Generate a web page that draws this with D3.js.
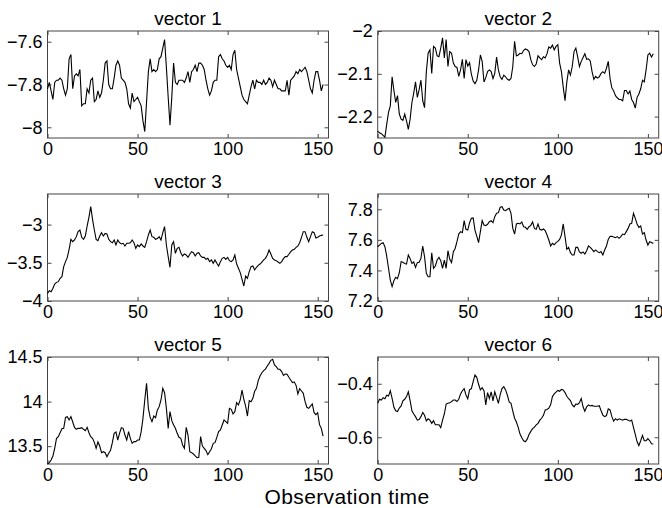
<!DOCTYPE html>
<html>
<head>
<meta charset="utf-8">
<script src="https://cdn.jsdelivr.net/npm/d3@7"></script>
<style>
    body { margin: 0; background: #fff; }
    svg { display: block; font-family: "Liberation Sans", Arial, Helvetica, sans-serif; }
</style>
</head>
<body>
<svg id="chart" width="662" height="508"></svg>
<script>
// observation values (t = 0 .. 153)
const vector1 = [-7.82,-7.79,-7.83,-7.87,-7.79,-7.78,-7.78,-7.77,-7.78,-7.82,
    -7.85,-7.82,-7.68,-7.66,-7.82,-7.76,-7.75,-7.76,-7.73,-7.90,
    -7.89,-7.89,-7.82,-7.84,-7.78,-7.77,-7.88,-7.87,-7.83,-7.86,
    -7.84,-7.78,-7.70,-7.69,-7.80,-7.82,-7.82,-7.77,-7.71,-7.69,
    -7.71,-7.77,-7.78,-7.79,-7.82,-7.89,-7.91,-7.84,-7.88,-7.87,
    -7.86,-7.88,-7.90,-7.97,-8.02,-7.88,-7.74,-7.68,-7.74,-7.73,
    -7.74,-7.73,-7.68,-7.67,-7.63,-7.59,-7.72,-7.86,-7.99,-7.86,
    -7.70,-7.79,-7.80,-7.78,-7.78,-7.78,-7.79,-7.77,-7.74,-7.79,
    -7.74,-7.73,-7.71,-7.74,-7.70,-7.70,-7.71,-7.73,-7.78,-7.82,
    -7.85,-7.83,-7.79,-7.78,-7.78,-7.67,-7.66,-7.68,-7.69,-7.71,
    -7.72,-7.71,-7.73,-7.66,-7.64,-7.73,-7.77,-7.81,-7.85,-7.87,
    -7.88,-7.89,-7.85,-7.81,-7.78,-7.82,-7.78,-7.79,-7.79,-7.80,
    -7.78,-7.80,-7.79,-7.77,-7.78,-7.81,-7.78,-7.80,-7.82,-7.82,
    -7.83,-7.83,-7.83,-7.78,-7.85,-7.78,-7.77,-7.76,-7.74,-7.75,
    -7.73,-7.74,-7.73,-7.72,-7.74,-7.78,-7.82,-7.84,-7.78,-7.74,
    -7.74,-7.78,-7.83,-7.80];

const vector2 = [-2.234,-2.238,-2.240,-2.244,-2.248,-2.218,-2.190,-2.175,-2.107,-2.139,
    -2.167,-2.151,-2.194,-2.206,-2.209,-2.194,-2.210,-2.230,-2.206,-2.167,
    -2.145,-2.119,-2.155,-2.137,-2.115,-2.163,-2.179,-2.095,-2.052,-2.044,
    -2.099,-2.036,-2.040,-2.058,-2.060,-2.040,-2.016,-2.063,-2.020,-2.083,
    -2.048,-2.052,-2.075,-2.083,-2.085,-2.106,-2.091,-2.066,-2.111,-2.067,
    -2.082,-2.074,-2.101,-2.117,-2.123,-2.115,-2.091,-2.056,-2.071,-2.119,
    -2.109,-2.095,-2.091,-2.095,-2.111,-2.099,-2.061,-2.091,-2.107,-2.113,
    -2.103,-2.107,-2.113,-2.115,-2.111,-2.083,-2.024,-2.058,-2.056,-2.052,
    -2.053,-2.045,-2.042,-2.044,-2.048,-2.067,-2.079,-2.083,-2.077,-2.058,
    -2.063,-2.067,-2.060,-2.063,-2.053,-2.037,-2.040,-2.033,-2.044,-2.036,
    -2.032,-2.075,-2.095,-2.131,-2.163,-2.119,-2.091,-2.103,-2.083,-2.048,
    -2.040,-2.060,-2.083,-2.071,-2.062,-2.053,-2.066,-2.065,-2.070,-2.095,
    -2.113,-2.106,-2.110,-2.107,-2.099,-2.095,-2.099,-2.087,-2.071,-2.111,
    -2.133,-2.140,-2.151,-2.156,-2.160,-2.160,-2.163,-2.139,-2.139,-2.147,
    -2.140,-2.160,-2.167,-2.180,-2.155,-2.147,-2.135,-2.115,-2.119,-2.091,
    -2.056,-2.052,-2.061,-2.053];

const vector3 = [-3.900,-3.865,-3.878,-3.834,-3.778,-3.756,-3.747,-3.703,-3.681,-3.551,
    -3.485,-3.429,-3.324,-3.193,-3.224,-3.202,-3.158,-3.093,-3.071,-3.167,
    -3.193,-3.149,-3.019,-2.905,-2.766,-2.931,-3.071,-3.193,-3.211,-3.149,
    -3.106,-3.149,-3.115,-3.123,-3.193,-3.224,-3.237,-3.202,-3.267,-3.202,
    -3.237,-3.254,-3.245,-3.280,-3.245,-3.245,-3.237,-3.202,-3.237,-3.311,
    -3.267,-3.289,-3.254,-3.280,-3.298,-3.224,-3.136,-3.071,-3.158,-3.167,
    -3.193,-3.184,-3.158,-3.202,-3.106,-3.027,-3.267,-3.420,-3.559,-3.267,
    -3.224,-3.376,-3.311,-3.298,-3.368,-3.411,-3.385,-3.398,-3.429,-3.389,
    -3.354,-3.368,-3.411,-3.376,-3.368,-3.411,-3.429,-3.429,-3.455,-3.442,
    -3.485,-3.463,-3.507,-3.463,-3.507,-3.542,-3.485,-3.442,-3.429,-3.455,
    -3.429,-3.472,-3.485,-3.463,-3.398,-3.516,-3.572,-3.629,-3.716,-3.804,
    -3.673,-3.703,-3.616,-3.551,-3.542,-3.594,-3.559,-3.533,-3.516,-3.490,
    -3.463,-3.442,-3.398,-3.333,-3.385,-3.442,-3.463,-3.472,-3.490,-3.507,
    -3.485,-3.446,-3.420,-3.420,-3.389,-3.354,-3.333,-3.324,-3.298,-3.280,
    -3.237,-3.167,-3.093,-3.093,-3.167,-3.224,-3.158,-3.093,-3.106,-3.176,
    -3.167,-3.149,-3.141,-3.136];

const vector4 = [7.555,7.566,7.577,7.582,7.555,7.494,7.414,7.337,7.294,7.333,
    7.355,7.346,7.385,7.457,7.453,7.446,7.442,7.501,7.477,7.446,
    7.455,7.420,7.451,7.453,7.479,7.560,7.490,7.381,7.359,7.359,
    7.516,7.414,7.429,7.468,7.486,7.464,7.414,7.468,7.414,7.529,
    7.473,7.451,7.523,7.544,7.588,7.638,7.654,7.647,7.726,7.669,
    7.664,7.712,7.741,7.743,7.664,7.625,7.582,7.654,7.726,7.697,
    7.693,7.702,7.719,7.726,7.712,7.752,7.774,7.778,7.813,7.817,
    7.795,7.791,7.800,7.806,7.774,7.675,7.638,7.704,7.708,7.704,
    7.717,7.686,7.682,7.669,7.686,7.695,7.717,7.675,7.669,7.704,
    7.669,7.664,7.671,7.660,7.632,7.599,7.560,7.577,7.568,7.582,
    7.590,7.603,7.632,7.704,7.621,7.538,7.551,7.516,7.501,7.501,
    7.551,7.551,7.521,7.512,7.521,7.507,7.529,7.560,7.551,7.538,
    7.523,7.534,7.523,7.516,7.523,7.501,7.534,7.560,7.603,7.623,
    7.623,7.619,7.614,7.621,7.610,7.621,7.638,7.634,7.654,7.675,
    7.704,7.708,7.774,7.741,7.704,7.682,7.691,7.638,7.647,7.599,
    7.566,7.588,7.582,7.577];

const vector5 = [13.300,13.315,13.345,13.390,13.476,13.588,13.607,13.651,13.696,13.700,
    13.823,13.831,13.794,13.831,13.771,13.711,13.689,13.700,13.700,13.707,
    13.689,13.674,13.711,13.651,13.607,13.588,13.543,13.476,13.547,13.502,
    13.427,13.438,13.427,13.382,13.420,13.453,13.539,13.644,13.659,13.569,
    13.644,13.707,13.700,13.625,13.569,13.663,13.588,13.532,13.551,13.551,
    13.569,13.569,13.663,13.812,14.018,14.205,13.924,13.823,13.775,13.838,
    13.820,13.906,13.943,14.018,14.149,14.100,13.924,13.700,13.887,13.786,
    13.737,13.700,13.644,13.599,13.588,13.513,13.476,13.711,13.625,13.438,
    13.427,13.412,13.390,13.371,13.375,13.607,13.502,13.476,13.450,13.405,
    13.438,13.472,13.532,13.539,13.599,13.663,13.681,13.737,13.794,13.775,
    13.756,13.924,13.913,13.861,13.887,13.988,13.962,14.018,14.130,14.025,
    13.950,13.838,14.010,13.999,14.036,14.115,14.149,14.235,14.287,14.324,
    14.347,14.365,14.399,14.429,14.463,14.474,14.410,14.392,14.362,14.362,
    14.336,14.294,14.309,14.306,14.272,14.242,14.212,14.220,14.182,14.085,
    14.145,14.119,14.093,13.999,13.936,13.924,13.950,13.973,13.876,13.853,
    13.876,13.741,13.700,13.614];

const vector6 = [-0.473,-0.458,-0.461,-0.452,-0.456,-0.443,-0.446,-0.426,-0.455,-0.488,
    -0.501,-0.504,-0.491,-0.483,-0.464,-0.458,-0.448,-0.430,-0.463,-0.501,
    -0.513,-0.523,-0.536,-0.534,-0.523,-0.507,-0.518,-0.539,-0.531,-0.536,
    -0.548,-0.538,-0.553,-0.553,-0.553,-0.564,-0.536,-0.513,-0.476,-0.473,
    -0.471,-0.467,-0.461,-0.461,-0.466,-0.458,-0.438,-0.426,-0.418,-0.442,
    -0.456,-0.423,-0.418,-0.392,-0.367,-0.376,-0.402,-0.423,-0.415,-0.426,
    -0.479,-0.433,-0.455,-0.430,-0.464,-0.430,-0.451,-0.473,-0.441,-0.418,
    -0.411,-0.423,-0.443,-0.468,-0.473,-0.502,-0.529,-0.543,-0.563,-0.588,
    -0.602,-0.613,-0.617,-0.607,-0.590,-0.578,-0.568,-0.562,-0.554,-0.548,
    -0.536,-0.529,-0.518,-0.498,-0.496,-0.491,-0.479,-0.448,-0.438,-0.431,
    -0.425,-0.428,-0.421,-0.423,-0.433,-0.447,-0.456,-0.463,-0.479,-0.486,
    -0.476,-0.477,-0.471,-0.455,-0.486,-0.503,-0.486,-0.479,-0.483,-0.481,
    -0.484,-0.484,-0.484,-0.482,-0.501,-0.517,-0.523,-0.519,-0.494,-0.498,
    -0.523,-0.540,-0.531,-0.536,-0.531,-0.534,-0.536,-0.533,-0.533,-0.536,
    -0.540,-0.536,-0.563,-0.589,-0.617,-0.631,-0.613,-0.593,-0.613,-0.613,
    -0.605,-0.613,-0.624,-0.625];

const titles = ["vector 1", "vector 2", "vector 3", "vector 4", "vector 5", "vector 6"];
const xTicks = [0, 50, 100, 150];
const xLimits = [0, 156];
const yLimits = [[-8.05, -7.55], [-2.25, -2], [-4, -2.6], [7.2, 7.9], [13.3, 14.5], [-0.7, -0.3]];
const yTicks = [[-8, -7.8, -7.6], [-2.2, -2.1, -2], [-4, -3.5, -3], [7.2, 7.4, 7.6, 7.8], [13.5, 14, 14.5], [-0.6, -0.4]];
const xLabel = "Observation time";

const allVectors = [vector1, vector2, vector3, vector4, vector5, vector6];

const svg = d3.select('#chart');
const panelW = 281;
const panelH = 107;
const colLeft = [47.5, 377.7];
const rowTop = [31, 194, 357];
const fmt = d3.format("~g");

function drawPanel(k) {
    const values = allVectors[k];
    const left = colLeft[k % 2];
    const top = rowTop[Math.floor(k / 2)];

    const xScale = d3.scaleLinear().domain(xLimits).range([0, panelW]);
    const yScale = d3.scaleLinear().domain(yLimits[k]).range([panelH, 0]);

    const g = svg.append('g')
        .attr("transform", `translate(${left}, ${top})`);

    // inward ticks on all four sides, like matlab's box
    g.append('g').call(d3.axisBottom(xScale).tickValues(xTicks).tickFormat(fmt)
            .tickSizeInner(-4).tickSizeOuter(0).tickPadding(4))
        .attr("transform", `translate(0, ${panelH})`)
        .attr("class", "ax x");
    g.append('g').call(d3.axisTop(xScale).tickValues(xTicks).tickFormat("")
            .tickSizeInner(-4).tickSizeOuter(0))
        .attr("class", "ax");
    g.append('g').call(d3.axisLeft(yScale).tickValues(yTicks[k]).tickFormat(fmt)
            .tickSizeInner(-4).tickSizeOuter(0).tickPadding(5))
        .attr("class", "ax y");
    g.append('g').call(d3.axisRight(yScale).tickValues(yTicks[k]).tickFormat("")
            .tickSizeInner(-4).tickSizeOuter(0))
        .attr("transform", `translate(${panelW}, 0)`)
        .attr("class", "ax");

    g.selectAll('.ax .domain').remove();
    g.selectAll('.ax line').attr("stroke", "#444");
    g.selectAll('.ax text').attr("fill", "#000").attr("font-size", 18)
        .attr("font-family", '"Liberation Sans", Arial, sans-serif');

    g.append('rect')
        .attr('width', panelW)
        .attr('height', panelH)
        .attr('fill', 'none')
        .attr('stroke', '#444')
        .attr('stroke-width', 1);

    const line = d3.line()
        .x((d, i) => xScale(i))
        .y(d => yScale(d));

    g.append('path')
        .datum(values)
        .attr('d', line)
        .attr('fill', 'none')
        .attr('stroke', '#000')
        .attr('stroke-width', 1.1);

    g.append('text')
        .attr('x', panelW / 2)
        .attr('y', -6)
        .attr('text-anchor', 'middle')
        .attr('font-size', 19)
        .text(titles[k]);
}

for (let k = 0; k < allVectors.length; k++) drawPanel(k);

svg.append('text')
    .attr('x', 347)
    .attr('y', 503.5)
    .attr('text-anchor', 'middle')
    .attr('font-size', 21)
    .attr('letter-spacing', 0.4)
    .text(xLabel);
</script>
</body>
</html>
